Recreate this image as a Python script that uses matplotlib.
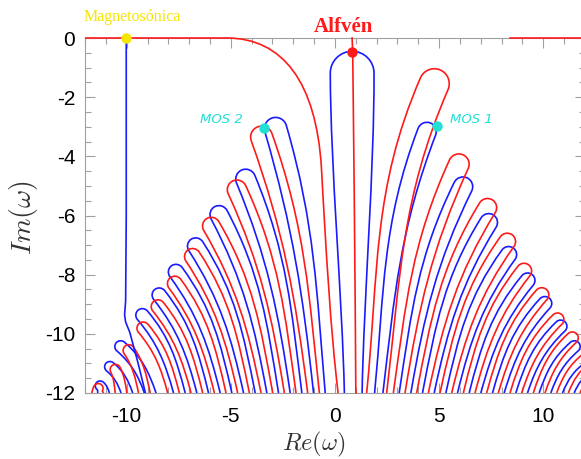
import numpy as np
import matplotlib
matplotlib.use("Agg")
import matplotlib.pyplot as plt
from matplotlib.path import Path
from matplotlib.patches import PathPatch

# ---- data (Re, Im) ----
# left-leaning fingers, inner -> outer
blue_left_tip_x = [-3.0, -4.47, -5.77, -6.9, -7.85, -8.65, -9.45, -10.5, -11.0, -11.45]
blue_left_tip_y = [-2.7, -4.46, -5.7, -6.8, -7.7, -8.5, -9.2, -10.3, -11.0, -11.65]
blue_left_foot = [-0.75, -1.87, -2.99, -4.11, -5.23, -6.35, -7.47, -8.87, -9.99, -11.11]
red_left_tip_x = [-3.7, -4.9, -6.15, -7.05, -7.9, -8.7, -9.4, -10.05, -10.65, -11.25]
red_left_tip_y = [-3.0, -4.83, -6.1, -7.16, -8.1, -8.9, -9.65, -10.4, -11.05, -11.7]
red_left_foot = [-1.03, -2.15, -3.27, -4.39, -5.51, -6.63, -7.75, -9.15, -10.27, -11.39]

# right-leaning fingers, inner -> outer
blue_right_tip_x = [4.57, 6.35, 7.6, 8.56, 9.47, 10.3, 11.05, 11.7, 12.4, 13.05]
blue_right_tip_y = [-2.87, -4.73, -5.98, -7.1, -8.0, -8.8, -9.6, -10.3, -11.0, -11.7]
blue_right_foot = [2.1, 3.36, 4.48, 5.6, 6.72, 7.84, 8.96, 10.08, 11.2, 12.32]
red_right_tip_x = [5.05, 6.15, 7.55, 8.5, 9.3, 10.15, 10.9, 11.6, 12.3, 12.95]
red_right_tip_y = [-1.08, -3.95, -5.47, -6.65, -7.67, -8.5, -9.36, -10.0, -10.7, -11.35]
red_right_foot = [2.0, 3.08, 4.2, 5.32, 6.44, 7.56, 8.68, 9.8, 10.92, 12.04]

# Alfven loop (blue) around the Alfven point
alfven_loop_tip = (0.82, -0.45)
alfven_loop_feet = (0.45, 1.3)

# Alfven continuum line (red)
alfven_x = [0.82, 0.85, 0.92, 0.97, 1.0]
alfven_y = [0.0, -0.45, -5.0, -9.0, -12.0]

# red branch coming in along Im = 0 on the left (cubic control points)
red_top_x = [-12.0, -5.2, -2.5, -0.9, -0.65, -0.45, -0.2, 0.15]
red_top_y = [0.0, 0.0, 0.0, -1.5, -4.4, -7.0, -10.0, -12.0]
red_top_right_x = [8.4, 12.0]
red_top_right_y = [0.0, 0.0]

# magnetosonic branch (blue)
mag_x = [-10.02, -10.02, -10.05, -10.1, -10.05, -9.85, -9.45, -9.1]
mag_y = [0.0, -6.0, -8.9, -9.35, -9.6, -9.95, -11.0, -12.0]

magneto_pt = (-10.02, 0.0)
alfven_pt = (0.82, -0.48)
mos1_pt = (4.9, -2.97)
mos2_pt = (-3.41, -3.04)

RED = "#ff1a1a"
BLUE = "#1a1aff"
CYAN = "#22e0d4"
GRAY = "#a0a0a0"

plt.rcParams["font.family"] = ["Liberation Sans", "DejaVu Sans"]
plt.rcParams["mathtext.fontset"] = "cm"
plt.rcParams["axes.unicode_minus"] = False

fig = plt.figure(figsize=(5.81, 4.59), dpi=100)
ax = fig.add_axes([85 / 581, 66 / 459, 500 / 581, 355 / 459])
ax.set_xlim(-12, 12)
ax.set_ylim(-12, 0)

K = (355 / 12) / (500 / 24)  # y-stretch so the loops are drawn round on screen


def unit(v):
    return v / np.hypot(v[0], v[1])


def finger(xt, yt, xl, xr, r, tilt=1.7, up=0.7, ctl=0.38):
    # hairpin from left foot, round over the tip, back to the right foot
    T = np.array([xt, yt * K])
    Lf = np.array([xl, -12 * K])
    Rf = np.array([xr, -12 * K])
    c0 = (Lf + Rf) / 2 - T
    d = unit(np.array([c0[0] * tilt, c0[1]]))
    nL = np.array([d[1], -d[0]])
    SL = T + d * r + nL * r
    SR = T + d * r - nL * r
    k = 0.552 * r
    LL = np.hypot(*(SL - Lf))
    LR = np.hypot(*(SR - Rf))
    tL = unit(unit(SL - Lf) + np.array([0, up]))
    tR = unit(unit(SR - Rf) + np.array([0, up]))
    v = [Lf, Lf + tL * LL * ctl, SL + d * LL * ctl, SL,
         SL - d * k, T + nL * k, T,
         T - nL * k, SR - d * k, SR,
         SR + d * LR * ctl, Rf + tR * LR * ctl, Rf]
    v = np.array(v)
    v[:, 1] /= K
    codes = [Path.MOVETO] + [Path.CURVE4] * 12
    return Path(v, codes)


def draw_finger(xt, yt, xf, color, half=0.28, r=None, tilt=1.7):
    h = yt + 12
    if r is None:
        r = 0.22 + 0.034 * h
    p = finger(xt, yt, xf - half, xf + half, r, tilt=tilt)
    ax.add_patch(PathPatch(p, fill=False, ec=color, lw=1.2, zorder=3))


for xt, yt, xf in zip(blue_left_tip_x, blue_left_tip_y, blue_left_foot):
    draw_finger(xt, yt, xf, BLUE)
for xt, yt, xf in zip(red_left_tip_x, red_left_tip_y, red_left_foot):
    draw_finger(xt, yt, xf, RED)
for i, (xt, yt, xf) in enumerate(zip(blue_right_tip_x, blue_right_tip_y, blue_right_foot)):
    if i == 0:
        # MOS 1 finger sits inside the wide red one
        draw_finger(xt, yt, xf, BLUE, half=0.2, r=0.45, tilt=2.0)
    else:
        draw_finger(xt, yt, xf, BLUE)
for i, (xt, yt, xf) in enumerate(zip(red_right_tip_x, red_right_tip_y, red_right_foot)):
    if i == 0:
        draw_finger(xt, yt, xf, RED, half=0.48, r=0.72, tilt=2.2)
    else:
        draw_finger(xt, yt, xf, RED)

p = finger(alfven_loop_tip[0], alfven_loop_tip[1], alfven_loop_feet[0], alfven_loop_feet[1],
           1.05, tilt=1.0, up=1.0, ctl=0.3)
ax.add_patch(PathPatch(p, fill=False, ec=BLUE, lw=1.2, zorder=3))

ax.plot(alfven_x, alfven_y, color=RED, lw=1.2, clip_on=False, zorder=3)
top_path = Path(np.column_stack([red_top_x, red_top_y]),
                [Path.MOVETO, Path.LINETO] + [Path.CURVE4] * 6)
ax.add_patch(PathPatch(top_path, fill=False, ec=RED, lw=1.2, clip_on=False, zorder=3))
ax.plot(red_top_right_x, red_top_right_y, color=RED, lw=1.2, clip_on=False, zorder=3)
ax.plot(mag_x, mag_y, color=BLUE, lw=1.2, zorder=3)

ax.plot(*magneto_pt, "o", color="#f5e600", ms=6.5, clip_on=False, zorder=5)
ax.plot(*alfven_pt, "o", color=RED, ms=6.5, zorder=5)
ax.plot(*mos1_pt, "o", color=CYAN, ms=6.5, zorder=5)
ax.plot(*mos2_pt, "o", color=CYAN, ms=6.5, zorder=5)

ax.text(magneto_pt[0] + 0.3, 0.72, "Magnetosónica", color="#f5e600", fontsize=11.5,
        family="Liberation Serif", ha="center", va="center", clip_on=False)
ax.text(0.4, 0.38, "Alfvén", color=RED, fontsize=15, fontweight="bold",
        family="Liberation Serif", ha="center", va="center", clip_on=False)
ax.text(mos2_pt[0] - 2.05, mos2_pt[1] + 0.3, "MOS 2", color=CYAN, fontsize=9.5,
        style="italic", family="DejaVu Sans", ha="center", va="center")
ax.text(mos1_pt[0] + 1.65, mos1_pt[1] + 0.2, "MOS 1", color=CYAN, fontsize=9.5,
        style="italic", family="DejaVu Sans", ha="center", va="center")

ax.set_xticks([-10, -5, 0, 5, 10])
ax.set_xticks(np.arange(-12, 13, 1), minor=True)
ax.set_yticks([0, -2, -4, -6, -8, -10, -12])
ax.set_yticks(np.arange(-12, 0.1, 0.5), minor=True)
ax.tick_params(which="both", direction="in", top=True, right=True, color=GRAY, width=0.8)
ax.tick_params(which="major", length=7, labelsize=15)
ax.tick_params(which="minor", length=4)
ax.tick_params(axis="x", pad=10)
ax.tick_params(axis="y", pad=7)
for s in ax.spines.values():
    s.set_color(GRAY)
    s.set_linewidth(0.8)

fig.text(314 / 581, 1 - 444 / 459, r"$Re(\omega)$", fontsize=17.5, color="#333333",
         ha="center", va="center")
fig.text(24 / 581, 1 - 218 / 459, r"$Im(\omega)$", fontsize=20, color="#333333",
         ha="center", va="center", rotation=90)

fig.savefig("out.png", dpi=100)
